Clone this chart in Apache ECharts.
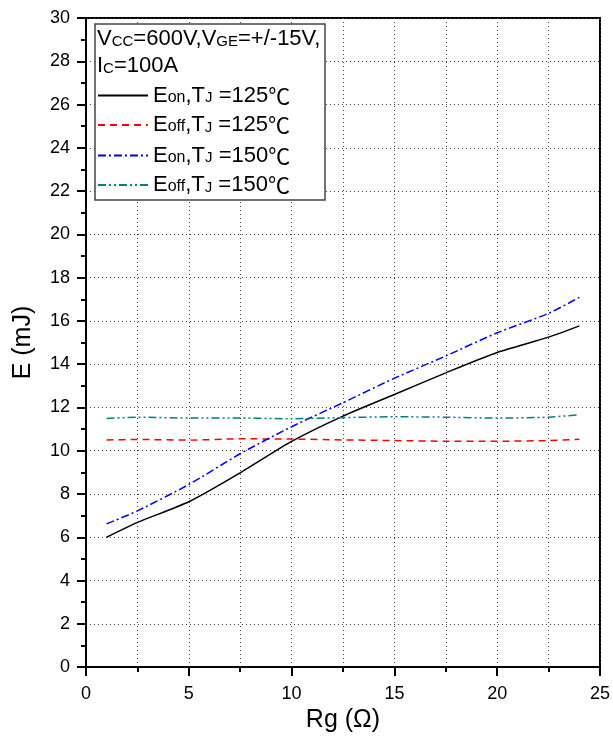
<!DOCTYPE html>
<html>
<head>
<meta charset="utf-8">
<script src="https://cdn.jsdelivr.net/npm/echarts@6/dist/echarts.min.js"></script>
<style>html,body{margin:0;padding:0;background:#fff;}#c{width:613px;height:738px;}</style>
</head>
<body>
<div id="c"></div>
<script>
var rg = [1, 2.5, 5, 7.5, 10, 12.5, 15, 17.5, 20, 22.5, 24];
var eon125 = [6.0, 6.69, 7.64, 8.98, 10.43, 11.6, 12.6, 13.6, 14.54, 15.25, 15.77];
var eoff125 = [10.5, 10.52, 10.49, 10.55, 10.54, 10.5, 10.47, 10.44, 10.44, 10.47, 10.53];
var eon150 = [6.62, 7.22, 8.44, 9.86, 11.11, 12.22, 13.35, 14.38, 15.45, 16.35, 17.09];
var eoff150 = [11.49, 11.55, 11.51, 11.51, 11.48, 11.53, 11.57, 11.55, 11.51, 11.55, 11.67];
var seriesNames = ['Eon,TJ =125℃', 'Eoff,TJ =125℃', 'Eon,TJ =150℃', 'Eoff,TJ =150℃'];
var legendRich = ['E{s|on},T{j|J} =125{d|℃}', 'E{s|off},T{j|J} =125{d|℃}', 'E{s|on},T{j|J} =150{d|℃}', 'E{s|off},T{j|J} =150{d|℃}'];

var FONT = '"Liberation Sans", Arial, "Noto Sans CJK SC", sans-serif';
function pairs(ys) { return rg.map(function (x, i) { return [x, ys[i]]; }); }

var chart = echarts.init(document.getElementById('c'), null, {renderer: 'canvas'});
var dotted = {type: [1, 3], color: '#444', width: 1};
var styles = [
  {color: '#000000', type: 'solid'},
  {color: '#ff0000', type: [7, 5]},
  {color: '#0000ff', type: [8, 3, 2, 3]},
  {color: '#008080', type: [8, 3, 2, 3, 2, 3]}
];
var datas = [eon125, eoff125, eon150, eoff150];
var rows = [96.5, 126, 156.5, 186];
var rich = {
  s: {fontSize: 16, fontFamily: FONT, color: '#000', verticalAlign: 'bottom', padding: [0, 0, 1, 0]},
  j: {fontSize: 15, fontFamily: FONT, color: '#000', verticalAlign: 'bottom', padding: [0, 0, 1, 0]},
  d: {fontSize: 22, fontFamily: '"Noto Sans CJK SC", sans-serif', color: '#000', verticalAlign: 'bottom'}
};
var legends = seriesNames.map(function (n, i) {
  return {
    data: [n], left: 97, top: rows[i] - 12, orient: 'vertical', padding: 0,
    itemWidth: 50, itemHeight: 24, itemGap: 0,
    itemStyle: {opacity: 0},
    selectedMode: false, z: 5,
    textStyle: {fontSize: 22, fontFamily: FONT, color: '#000', rich: rich},
    formatter: function () { return legendRich[i]; }
  };
});

chart.setOption({
  animation: false,
  backgroundColor: '#fff',
  grid: {left: 86, top: 18, width: 514, height: 655, show: true, borderColor: '#000', borderWidth: 2, backgroundColor: 'transparent'},
  legend: legends,
  xAxis: {
    type: 'value', min: 0, max: 25, interval: 5,
    name: 'Rg (Ω)', nameLocation: 'middle', nameGap: 35,
    nameTextStyle: {fontSize: 25, fontFamily: FONT, color: '#000'},
    axisLine: {show: true, onZero: false, lineStyle: {color: '#000', width: 2}},
    axisTick: {show: true, inside: false, length: 9, lineStyle: {color: '#000', width: 2}},
    minorTick: {show: true, splitNumber: 2, length: 5, lineStyle: {color: '#000', width: 2}},
    splitLine: {show: true, lineStyle: dotted},
    minorSplitLine: {show: true, lineStyle: dotted},
    axisLabel: {fontSize: 18, fontFamily: FONT, color: '#000', margin: 18}
  },
  yAxis: {
    type: 'value', min: 0, max: 30, interval: 2,
    name: 'E (mJ)', nameLocation: 'middle', nameGap: 50,
    nameTextStyle: {fontSize: 25, fontFamily: FONT, color: '#000'},
    axisLine: {show: true, onZero: false, lineStyle: {color: '#000', width: 2}},
    axisTick: {show: true, inside: false, length: 9, lineStyle: {color: '#000', width: 2}},
    minorTick: {show: true, splitNumber: 2, length: 5, lineStyle: {color: '#000', width: 2}},
    splitLine: {show: true, lineStyle: dotted},
    minorSplitLine: {show: false},
    axisLabel: {fontSize: 18, fontFamily: FONT, color: '#000', margin: 16}
  },
  graphic: [
    {type: 'rect', z: 3, shape: {x: 95, y: 24, width: 230, height: 176},
     style: {fill: '#fff', stroke: '#444', lineWidth: 1.5}},
    {type: 'text', z: 4, x: 97, y: 39,
     style: {text: 'V{c|CC}=600V,V{c|GE}=+/-15V,', font: '22px ' + FONT, fill: '#000', verticalAlign: 'middle',
             rich: {c: {fontSize: 15, fontFamily: FONT, fill: '#000', verticalAlign: 'bottom', padding: [0, 0, 1, 0]}}}},
    {type: 'text', z: 4, x: 97, y: 66,
     style: {text: 'I{c|C}=100A', font: '22px ' + FONT, fill: '#000', verticalAlign: 'middle',
             rich: {c: {fontSize: 15, fontFamily: FONT, fill: '#000', verticalAlign: 'bottom', padding: [0, 0, 1, 0]}}}}
  ],
  series: seriesNames.map(function (n, i) {
    return {
      name: n, type: 'line', data: pairs(datas[i]), smooth: 0.25,
      showSymbol: false, symbol: 'none', z: 2,
      lineStyle: {color: styles[i].color, type: styles[i].type, width: 1.5},
      itemStyle: {color: styles[i].color}
    };
  })
});
</script>
</body>
</html>
